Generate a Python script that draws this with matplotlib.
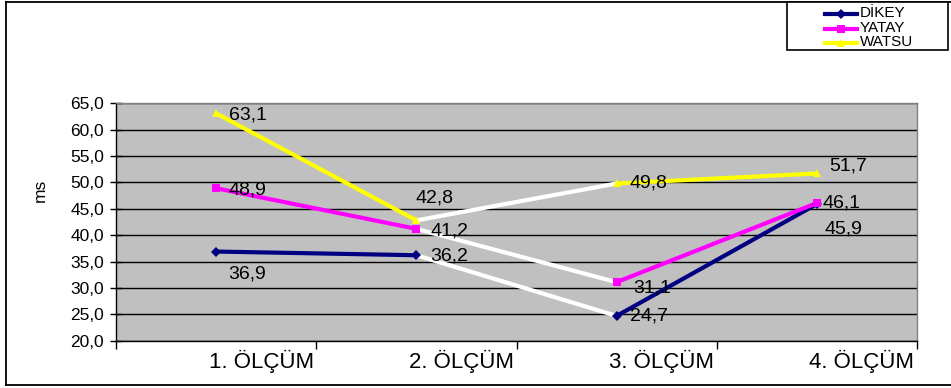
import matplotlib
matplotlib.use("Agg")
import matplotlib.pyplot as plt
from matplotlib.lines import Line2D
from matplotlib.patches import Rectangle
import matplotlib.transforms as mtransforms

plt.rcParams['font.family'] = ['Liberation Sans', 'DejaVu Sans']

categories = ["1. ÖLÇÜM", "2. ÖLÇÜM", "3. ÖLÇÜM", "4. ÖLÇÜM"]
dikey = [36.9, 36.2, 24.7, 45.9]
yatay = [48.9, 41.2, 31.1, 46.1]
watsu = [63.1, 42.8, 49.8, 51.7]
series_names = ["DİKEY", "YATAY", "WATSU"]
y_ticks = [20, 25, 30, 35, 40, 45, 50, 55, 60, 65]

colors = ["#000080", "#FF00FF", "#FFFF00"]
markers = ["D", "s", "^"]
marker_sizes = [5, 6, 6]
# label offsets in pixels (dx to left edge, dy to text centre)
label_offsets = [
    [(12, -22), (14, -1), (13, 0), (8, -25)],
    [(12, -2), (14, -2), (17, -6), (6, 0)],
    [(13, -2), (-1, 22), (13, 0), (12, 7)],
]

W, H = 951, 388
fig = plt.figure(figsize=(W / 100, H / 100), dpi=100)
fig.patch.set_facecolor("white")

def fx(px):
    return px / W

def fy(py):
    return 1 - py / H

# outer chart frame
fig.add_artist(Line2D([fx(6), fx(6)], [fy(2), fy(385)], color="black", lw=1.3,
                      transform=fig.transFigure))
fig.add_artist(Line2D([fx(6), 1.0], [fy(2), fy(2)], color="black", lw=1.3,
                      transform=fig.transFigure))
fig.add_artist(Line2D([fx(6), 1.0], [fy(385), fy(385)], color="black", lw=1.3,
                      transform=fig.transFigure))

left, right, top, bottom = 116, 917, 103.3, 340.7
ax = fig.add_axes([fx(left), fy(bottom), (right - left) / W, (bottom - top) / H])
ax.set_facecolor("#C0C0C0")

x = list(range(len(categories)))
ax.set_xlim(-0.5, len(categories) - 0.5)
ax.set_ylim(20, 65)

ax.set_yticks(y_ticks)
ax.set_yticklabels([f"{v:.1f}".replace(".", ",") for v in y_ticks], fontsize=12.5)
ax.yaxis.grid(True, color="black", lw=1.0)
ax.set_axisbelow(True)
ax.tick_params(axis="y", direction="inout", length=9, width=1, pad=4)

ax.set_xticks([i - 0.5 for i in range(len(categories) + 1)])
ax.set_xticklabels([])
ax.tick_params(axis="x", direction="out", length=6, width=1)

for side in ["top", "right"]:
    ax.spines[side].set_color("#808080")
    ax.spines[side].set_linewidth(1.0)
ax.spines["left"].set_linewidth(1.0)
ax.spines["bottom"].set_linewidth(1.0)

trans_lbl = mtransforms.blended_transform_factory(ax.transData, fig.transFigure)
for i, cat in enumerate(categories):
    ax.text(i + 0.225, fy(361), cat, transform=trans_lbl, ha="center", va="center",
            fontsize=16)

ax.text(fx(40), fy(190), "ms", transform=fig.transFigure, rotation=90,
        ha="center", va="center", fontsize=12.5)

all_series = [dikey, yatay, watsu]
lw = 3.0
for s, (vals, col, mk, ms) in enumerate(zip(all_series, colors, markers, marker_sizes)):
    # segment between second and third measurement is drawn in white
    ax.plot(x[0:2], vals[0:2], color=col, lw=lw, solid_capstyle="butt", zorder=3)
    ax.plot(x[1:3], vals[1:3], color="white", lw=lw, solid_capstyle="butt", zorder=3)
    ax.plot(x[2:4], vals[2:4], color=col, lw=lw, solid_capstyle="butt", zorder=3)
    ax.plot(x, vals, linestyle="none", marker=mk, color=col, markersize=ms,
            markeredgewidth=0, zorder=4)
    for i, v in enumerate(vals):
        dx, dy = label_offsets[s][i]
        ax.annotate(f"{v:.1f}".replace(".", ","), (x[i], v), xytext=(dx, dy),
                    textcoords="offset pixels", ha="left", va="center",
                    fontsize=14, zorder=5)

# legend box
lx0, ly0, lx1, ly1 = 787, 2, 948, 50
fig.add_artist(Rectangle((fx(lx0), fy(ly1)), fx(lx1) - fx(lx0), fy(ly0) - fy(ly1),
                         facecolor="white", edgecolor="black", lw=1.2,
                         transform=fig.transFigure, zorder=10))
row_y = [14, 28.5, 43]
for name, col, mk, ms, ry in zip(series_names, colors, markers, marker_sizes, row_y):
    fig.add_artist(Line2D([fx(825), fx(857)], [fy(ry), fy(ry)], color=col, lw=lw,
                          transform=fig.transFigure, zorder=11))
    fig.add_artist(Line2D([fx(841)], [fy(ry)], marker=mk, color=col, markersize=ms,
                          markeredgewidth=0, transform=fig.transFigure, zorder=12))
    fig.text(fx(860), fy(ry) + 0.002, name, ha="left", va="center", fontsize=11,
             zorder=12)

fig.savefig("out.png", dpi=100)
